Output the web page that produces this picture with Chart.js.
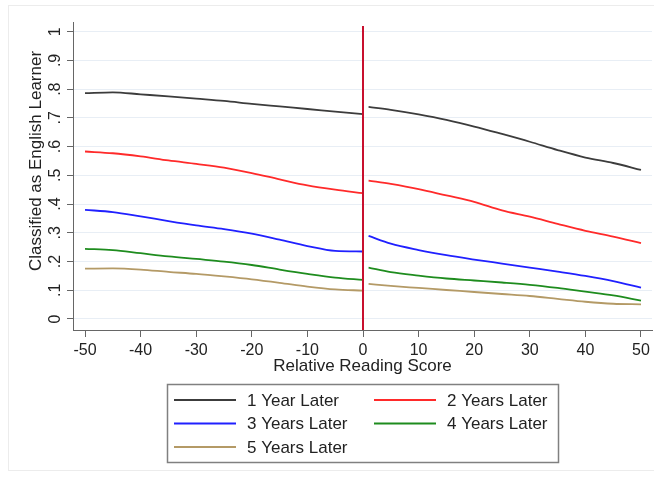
<!DOCTYPE html>
<html>
<head>
<meta charset="utf-8">
<script src="https://cdn.jsdelivr.net/npm/chart.js@4"></script>
<style>
  body { margin: 0; background: #fff; }
  #wrap { width: 654px; height: 477px; position: relative; }
</style>
</head>
<body>
<div id="wrap"><canvas id="grafica" width="654" height="477"></canvas></div>
<script>
// Datos (dos tramos: izquierda y derecha del corte en 0)
const xLeft = [-50, -45, -40, -35, -30, -25, -20, -15, -10, -5, 0];
const xRight = [1, 5, 10, 15, 20, 25, 30, 35, 40, 45, 50];

const seriesNames = ['1 Year Later', '2 Years Later', '3 Years Later', '4 Years Later', '5 Years Later'];
const colors = ['#3c3c3c', '#ff2a2a', '#2020ff', '#1e8c1e', '#b49a66'];

const year1Left  = [0.786, 0.789, 0.782, 0.775, 0.767, 0.759, 0.749, 0.740, 0.731, 0.722, 0.713];
const year1Right = [0.738, 0.728, 0.712, 0.693, 0.670, 0.644, 0.617, 0.588, 0.562, 0.543, 0.519];
const year2Left  = [0.583, 0.577, 0.566, 0.552, 0.540, 0.527, 0.508, 0.486, 0.465, 0.450, 0.438];
const year2Right = [0.482, 0.470, 0.452, 0.430, 0.408, 0.378, 0.356, 0.331, 0.307, 0.287, 0.264];
const year3Left  = [0.380, 0.372, 0.357, 0.341, 0.326, 0.313, 0.297, 0.276, 0.254, 0.237, 0.235];
const year3Right = [0.289, 0.262, 0.240, 0.222, 0.207, 0.193, 0.179, 0.165, 0.150, 0.132, 0.109];
const year4Left  = [0.244, 0.240, 0.229, 0.218, 0.209, 0.200, 0.188, 0.172, 0.157, 0.144, 0.136];
const year4Right = [0.179, 0.163, 0.151, 0.141, 0.134, 0.127, 0.119, 0.108, 0.095, 0.082, 0.064];
const year5Left  = [0.175, 0.176, 0.172, 0.164, 0.157, 0.148, 0.138, 0.126, 0.113, 0.103, 0.099];
const year5Right = [0.122, 0.115, 0.108, 0.101, 0.094, 0.087, 0.080, 0.070, 0.060, 0.053, 0.051];

const xTicks = [-50, -40, -30, -20, -10, 0, 10, 20, 30, 40, 50];
const yTicks = [0, 0.1, 0.2, 0.3, 0.4, 0.5, 0.6, 0.7, 0.8, 0.9, 1];
const yTickLabels = ['0', '.1', '.2', '.3', '.4', '.5', '.6', '.7', '.8', '.9', '1'];
const yTitle = 'Classified as English Learner';

const leftSeries = [year1Left, year2Left, year3Left, year4Left, year5Left];
const rightSeries = [year1Right, year2Right, year3Right, year4Right, year5Right];

const FONT = '"Liberation Sans", Arial, sans-serif';

function points(left, right) {
    const a = xLeft.map((x, i) => ({ x: x, y: left[i] }));
    const b = xRight.map((x, i) => ({ x: x, y: right[i] }));
    return a.concat([{ x: 0.5, y: null }], b);
}

const datasets = seriesNames.map((name, i) => ({
    label: name,
    data: points(leftSeries[i], rightSeries[i]),
    borderColor: colors[i],
    borderWidth: 1.8,
    pointRadius: 0,
    tension: 0.4,
    cubicInterpolationMode: 'monotone',
    spanGaps: false
}));

// linea de corte, etiquetas del eje y, leyenda y marco
const extras = {
    id: 'extras',
    afterDatasetsDraw(chart) {
        const ctx = chart.ctx;
        const xs = chart.scales.x, ys = chart.scales.y;
        const px = xs.getPixelForValue(0);
        ctx.save();
        ctx.strokeStyle = '#c8102e';
        ctx.lineWidth = 2;
        ctx.beginPath();
        ctx.moveTo(px, ys.getPixelForValue(1.02));
        ctx.lineTo(px, chart.chartArea.bottom);
        ctx.stroke();
        ctx.restore();
    },
    afterDraw(chart) {
        const ctx = chart.ctx;
        const ys = chart.scales.y;
        ctx.save();
        ctx.fillStyle = '#222';
        ctx.font = '16px ' + FONT;
        ctx.textAlign = 'center';
        ctx.textBaseline = 'middle';
        yTicks.forEach((v, i) => {
            ctx.save();
            ctx.translate(56, ys.getPixelForValue(v));
            ctx.rotate(-Math.PI / 2);
            ctx.fillText(yTickLabels[i], 0, 0);
            ctx.restore();
        });

        // titulo del eje y
        ctx.save();
        ctx.font = '17px ' + FONT;
        ctx.translate(36, 161);
        ctx.rotate(-Math.PI / 2);
        ctx.fillText(yTitle, 0, 0);
        ctx.restore();

        // marco exterior tenue
        ctx.strokeStyle = '#ececec';
        ctx.lineWidth = 1;
        ctx.strokeRect(8.5, 5.5, 660, 465);

        // leyenda
        ctx.strokeStyle = '#808080';
        ctx.lineWidth = 1.5;
        ctx.strokeRect(167.5, 384.5, 391, 78);
        ctx.font = '17px ' + FONT;
        ctx.textAlign = 'left';
        chart.data.datasets.forEach((ds, i) => {
            const col = i % 2, row = Math.floor(i / 2);
            const lx = col === 0 ? 174 : 374;
            const ly = 400 + row * 23.5;
            ctx.strokeStyle = ds.borderColor;
            ctx.lineWidth = 1.8;
            ctx.beginPath();
            ctx.moveTo(lx, ly);
            ctx.lineTo(lx + 62, ly);
            ctx.stroke();
            ctx.fillStyle = '#222';
            ctx.fillText(ds.label, lx + 73, ly + 1);
        });
        ctx.restore();
    }
};

const config = {
    type: 'line',
    data: { datasets: datasets },
    options: {
        responsive: false,
        devicePixelRatio: 1,
        animation: false,
        layout: { padding: { left: 27, right: 2, top: 22, bottom: 100 } },
        plugins: { legend: { display: false }, tooltip: { enabled: false } },
        scales: {
            x: {
                type: 'linear',
                min: -52.16,
                max: 51.98,
                afterBuildTicks: s => { s.ticks = xTicks.map(v => ({ value: v })); },
                afterFit: s => { s.height = 47; },
                grid: { drawOnChartArea: false, drawTicks: true, tickLength: 7, tickColor: '#666' },
                border: { display: true, color: '#666', width: 1 },
                ticks: { color: '#222', font: { size: 16, family: FONT }, padding: 4, maxRotation: 0 },
                title: { display: true, text: 'Relative Reading Score', color: '#222', font: { size: 17, family: FONT }, padding: 0 }
            },
            y: {
                type: 'linear',
                min: -0.0383,
                max: 1.0338,
                afterBuildTicks: s => { s.ticks = yTicks.map(v => ({ value: v })); },
                afterFit: s => { s.width = 46; },
                grid: { color: '#e8eef5', lineWidth: 1, drawTicks: true, tickLength: 6, tickColor: '#666' },
                border: { display: true, color: '#666', width: 1 },
                ticks: { display: false },
                title: { display: false }
            }
        }
    },
    plugins: [extras]
};

new Chart(document.querySelector('#grafica'), config);
</script>
</body>
</html>
